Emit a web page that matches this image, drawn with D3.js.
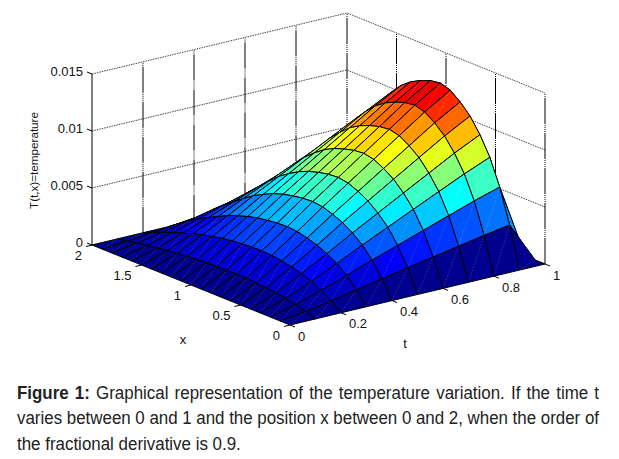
<!DOCTYPE html>
<html>
<head>
<meta charset="utf-8">
<script src="https://cdn.jsdelivr.net/npm/d3@7"></script>
<style>
  body { margin: 0; background: #fff; }
  svg { display: block; }
</style>
</head>
<body>
<div id="chart"></div>
<script>
var tValues = [0, 0.1, 0.2, 0.3, 0.4, 0.5, 0.6, 0.7, 0.8, 0.9, 1];
var xValues = [0, 0.1, 0.2, 0.3, 0.4, 0.5, 0.6, 0.7, 0.8, 0.9, 1, 1.1, 1.2, 1.3, 1.4, 1.5, 1.6, 1.7, 1.8, 1.9, 2];

// one row per t
var z00 = [0,0,0,0,0,0,0,0,0,0,0,0,0,0,0,0,0,0,0,0,0];
var z01 = [0,.00030,.00055,.00074,.00088,.00099,.00106,.00112,.00114,.00113,.00110,.00106,.00100,.00092,.00083,.00072,.00059,.00047,.00033,.00017,0];
var z02 = [0,.00070,.00127,.00171,.00203,.00227,.00245,.00258,.00263,.00260,.00254,.00245,.00231,.00213,.00192,.00166,.00137,.00108,.00076,.00039,0];
var z03 = [0,.00112,.00204,.00274,.00324,.00364,.00392,.00413,.00421,.00417,.00406,.00392,.00370,.00341,.00307,.00265,.00219,.00173,.00122,.00063,0];
var z04 = [0,.00156,.00285,.00382,.00453,.00509,.00547,.00576,.00588,.00582,.00567,.00547,.00517,.00476,.00429,.00370,.00306,.00241,.00171,.00088,0];
var z05 = [0,.00198,.00361,.00485,.00574,.00645,.00694,.00731,.00746,.00739,.00720,.00694,.00656,.00604,.00545,.00470,.00388,.00306,.00216,.00112,0];
var z06 = [0,.00240,.00438,.00588,.00696,.00782,.00841,.00886,.00904,.00895,.00872,.00841,.00796,.00732,.00660,.00570,.00470,.00371,.00262,.00136,0];
var z07 = [0,.00281,.00514,.00690,.00817,.00918,.00987,.01040,.01061,.01050,.01024,.00987,.00934,.00859,.00775,.00668,.00552,.00435,.00308,.00159,0];
var z08 = [0,.00323,.00590,.00792,.00939,.01054,.01134,.01195,.01219,.01207,.01176,.01134,.01073,.00987,.00890,.00768,.00634,.00500,.00354,.00183,0];
var z09 = [0,.00360,.00658,.00884,.01047,.01176,.01265,.01333,.01360,.01346,.01312,.01265,.01197,.01102,.00993,.00857,.00707,.00558,.00394,.00204,0];
var z10 = [0,0,0,0,0,0,0,0,0,0,0,0,0,0,0,0,0,0,0,0,0];
var zRows = [z00, z01, z02, z03, z04, z05, z06, z07, z08, z09, z10];

var tTicks = [0, 0.2, 0.4, 0.6, 0.8, 1];
var xTicks = [0, 0.5, 1, 1.5, 2];
var zTicks = [0, 0.005, 0.01, 0.015];
var tTickLabels = ["0", "0.2", "0.4", "0.6", "0.8", "1"];
var xTickLabels = ["0", "0.5", "1", "1.5", "2"];
var zTickLabels = ["0", "0.005", "0.01", "0.015"];

var captionLines = [
  ["Graphical representation of the temperature variation. If the time t", 1],
  ["varies between 0 and 1 and the position x between 0 and 2, when the order of", 0],
  ["the fractional derivative is 0.9.", 0]
];

var svg = d3.select("#chart")
  .append("svg")
  .attr("width", 619)
  .attr("height", 459);

// oblique view: the front corner is t=0, x=0
var originX = 290;
var originY = 325;
var tToX = d3.scaleLinear().domain([0, 1]).range([0, 255]);
var tToY = d3.scaleLinear().domain([0, 1]).range([0, -61]);
var xToX = d3.scaleLinear().domain([0, 2]).range([0, -198]);
var xToY = d3.scaleLinear().domain([0, 2]).range([0, -80]);
var zToY = d3.scaleLinear().domain([0, 0.015]).range([0, -171]);

function project(t, x, z) {
  return [originX + tToX(t) + xToX(x), originY + tToY(t) + xToY(x) + zToY(z)];
}

// matlab jet
var zMax = d3.max(zRows, r => d3.max(r));
var jet = d3.scaleLinear()
  .domain([0, 0.125, 0.375, 0.625, 0.875, 1].map(d => d * zMax))
  .range(["#00008f", "#0000ff", "#00ffff", "#ffff00", "#ff0000", "#800000"]);

var line = d3.line();

// back walls
var walls = svg.append("g");

zTicks.forEach(function(z) {
  walls.append("path")
    .attr("d", line([project(0, 2, z), project(1, 2, z), project(1, 0, z)]))
    .attr("fill", "none")
    .attr("stroke", "#444")
    .attr("stroke-width", 1)
    .attr("stroke-dasharray", "1.5 1");
});

tTicks.forEach(function(t) {
  walls.append("path")
    .attr("d", line([project(t, 2, 0), project(t, 2, 0.015)]))
    .attr("fill", "none")
    .attr("stroke", "#000")
    .attr("stroke-width", 1)
    .attr("stroke-dasharray", t == 0 ? null : "26 1 1 1 1 1 1 1 1 1");
});
xTicks.slice(0, -1).forEach(function(x) {
  walls.append("path")
    .attr("d", line([project(1, x, 0), project(1, x, 0.015)]))
    .attr("fill", "none")
    .attr("stroke", "#000")
    .attr("stroke-width", 1)
    .attr("stroke-dasharray", "26 1 1 1 1 1 1 1 1 1");
});

// surface cells, far corner first so the near ones paint over them
var cells = [];
for (var i = tValues.length - 2; i >= 0; i--) {
  for (var j = xValues.length - 2; j >= 0; j--) {
    cells.push({
      corners: [
        project(tValues[i], xValues[j], zRows[i][j]),
        project(tValues[i + 1], xValues[j], zRows[i + 1][j]),
        project(tValues[i + 1], xValues[j + 1], zRows[i + 1][j + 1]),
        project(tValues[i], xValues[j + 1], zRows[i][j + 1])
      ],
      z: zRows[i][j]
    });
  }
}

var cellGroup = svg.append("g");

cellGroup.selectAll("g")
  .data(cells)
  .enter()
  .append("g")
  .each(function(d) {
    var g = d3.select(this);
    g.append("path")
      .attr("d", line(d.corners) + "Z")
      .attr("fill", jet(d.z))
      .attr("stroke", "#000")
      .attr("stroke-width", 1)
      .attr("stroke-linejoin", "round");
    // faint seam across each face
    g.append("path")
      .attr("d", line([d.corners[0], d.corners[2]]))
      .attr("stroke", "#fff")
      .attr("stroke-opacity", 0.3)
      .attr("stroke-width", 0.6)
      .attr("stroke-dasharray", "1.5 1.5");
  });

// axes
var axes = svg.append("g")
  .attr("stroke", "#000")
  .attr("stroke-width", 1);

function tickPath(p, dx, dy) {
  return line([p, [p[0] + dx, p[1] + dy]]);
}

zTicks.forEach(function(z) {
  axes.append("path").attr("d", tickPath(project(0, 2, z), -5, -2));
});
xTicks.forEach(function(x) {
  axes.append("path").attr("d", tickPath(project(0, x, 0), -6, 1.5));
});
tTicks.forEach(function(t) {
  axes.append("path").attr("d", tickPath(project(t, 0, 0), 5, 2));
});

var labels = svg.append("g")
  .attr("font-family", "'Liberation Sans', Arial, sans-serif")
  .attr("font-size", 13)
  .attr("fill", "#111");

labels.selectAll(".ztick")
  .data(zTicks)
  .enter()
  .append("text")
  .attr("class", "ztick")
  .attr("x", 83)
  .attr("y", d => project(0, 2, d)[1] + 2)
  .attr("text-anchor", "end")
  .text((d, i) => zTickLabels[i]);

labels.selectAll(".xtick")
  .data(xTicks)
  .enter()
  .append("text")
  .attr("class", "xtick")
  .attr("x", d => project(0, d, 0)[0] - 10)
  .attr("y", d => project(0, d, 0)[1] + 14.5)
  .attr("text-anchor", "end")
  .text((d, i) => xTickLabels[i]);

labels.selectAll(".ttick")
  .data(tTicks)
  .enter()
  .append("text")
  .attr("class", "ttick")
  .attr("x", d => project(d, 0, 0)[0] + 8)
  .attr("y", d => project(d, 0, 0)[1] + 15.5)
  .text((d, i) => tTickLabels[i]);

labels.append("text")
  .attr("x", 183)
  .attr("y", 344)
  .attr("text-anchor", "middle")
  .text("x");

labels.append("text")
  .attr("x", 405)
  .attr("y", 348)
  .attr("text-anchor", "middle")
  .text("t");

labels.append("text")
  .attr("transform", "translate(38, 160.5) rotate(-90)")
  .attr("text-anchor", "middle")
  .attr("font-size", 11.5)
  .attr("textLength", 97)
  .attr("lengthAdjust", "spacingAndGlyphs")
  .text("T(t,x)=temperature");

// caption, squeezed sideways because there is no narrow font here
var caption = svg.append("g")
  .attr("font-family", "'Liberation Sans', sans-serif")
  .attr("font-size", 18.5)
  .attr("fill", "#222");

var captionLeft = 17;
var captionBase = [399, 424, 450];
var captionTexts = captionLines.map(function(row, i) {
  var text = caption.append("text");
  if (row[1]) {
    text.append("tspan")
      .attr("font-weight", "bold")
      .text("Figure 1: ");
  }
  text.append("tspan").text(row[0]);
  return text;
});

// the last line sets the squeeze, the first two are justified with word gaps
var squeeze = (241 - captionLeft) / captionTexts[2].node().getComputedTextLength();

captionTexts.forEach(function(text, i) {
  text.attr("transform", `translate(${captionLeft}, ${captionBase[i]}) scale(${squeeze}, 1)`);
  if (i < 2) {
    var gaps = text.text().split(" ").length - 1;
    var extra = ((599 - captionLeft) / squeeze - text.node().getComputedTextLength()) / gaps;
    text.attr("word-spacing", extra);
  }
});
</script>
</body>
</html>
